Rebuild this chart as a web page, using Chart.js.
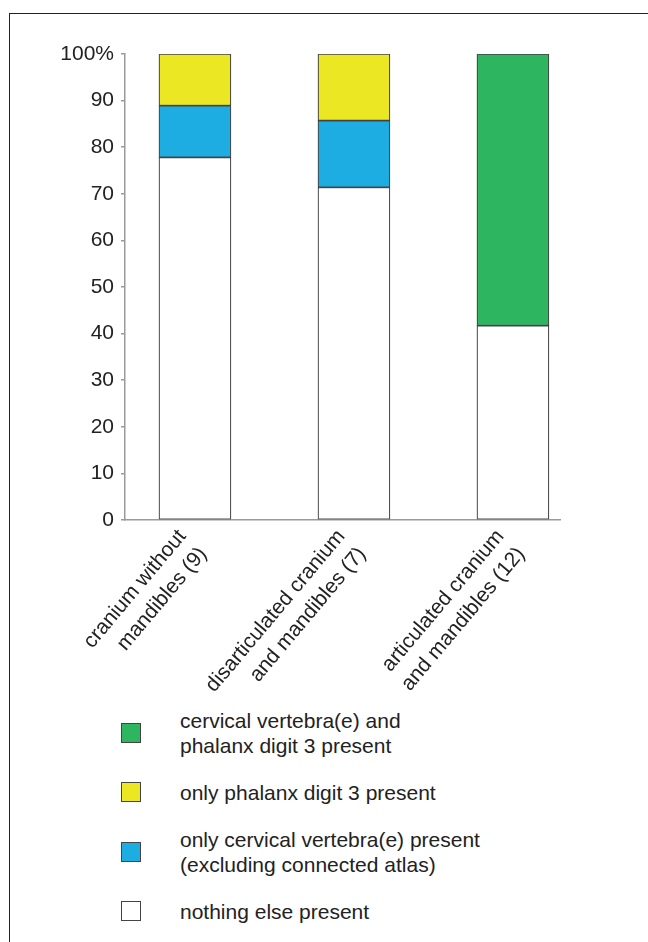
<!DOCTYPE html>
<html>
<head>
<meta charset="utf-8">
<script src="https://cdn.jsdelivr.net/npm/chart.js@4.4.1/dist/chart.umd.min.js"></script>
<style>
  body { margin: 0; background: #fff; font-family: "Liberation Sans", Arial, sans-serif; color: #222; }
  #wrap { position: relative; width: 648px; height: 942px; overflow: hidden; }
  #frame { position: absolute; left: 9px; top: 13px; width: 700px; height: 1000px;
           border-left: 1.5px solid #222; border-top: 1.5px solid #222; }
  #chartBox { position: absolute; left: 0; top: 0; }
  .leg { position: absolute; left: 121px; }
  .leg .sw { position: absolute; left: 0; width: 18px; height: 18px; border: 1.2px solid #444; }
  .leg .tx { position: absolute; left: 59px; font-size: 21px; line-height: 25px; white-space: nowrap; }
</style>
</head>
<body>
<div id="wrap">
  <div id="frame"></div>
  <div id="chartBox"><canvas id="myChart" width="648" height="700"></canvas></div>
  <div id="legend"></div>
</div>
<script>
// categories and percentages per group
var categories = [
    ['cranium without', 'mandibles (9)'],
    ['disarticulated cranium', 'and mandibles (7)'],
    ['articulated cranium', 'and mandibles (12)']
];
var nothingElse = [77.8, 71.4, 41.7];
var onlyCervical = [11.1, 14.3, null];
var onlyPhalanx = [11.1, 14.3, null];
var cervicalAndPhalanx = [null, null, 58.3];
var yTicks = [0, 10, 20, 30, 40, 50, 60, 70, 80, 90, 100];

var seriesNames = ['nothing else present', 'only cervical vertebra(e) present', 'only phalanx digit 3 present', 'cervical vertebra(e) and phalanx digit 3 present'];
var seriesColors = ['#ffffff', '#1eade3', '#ebe823', '#2db560'];

function pts(arr) {
    return arr.map(function(v, i) { return { x: i, y: v }; });
}

var allSeries = [nothingElse, onlyCervical, onlyPhalanx, cervicalAndPhalanx];
var datasets = allSeries.map(function(arr, k) {
    return {
        label: seriesNames[k],
        data: pts(arr),
        backgroundColor: seriesColors[k],
        borderColor: '#444',
        borderWidth: 1.2,
        borderSkipped: false,
        barThickness: 72
    };
});

var graphData = {
    type: 'bar',
    data: { datasets: datasets },
    options: {
        responsive: false,
        animation: false,
        layout: { padding: { left: 0, top: 54, right: 88, bottom: 0 } },
        plugins: { legend: { display: false }, tooltip: { enabled: false } },
        scales: {
            x: {
                type: 'linear',
                stacked: true,
                offset: false,
                min: -0.44,
                max: 2.296,
                grid: { display: false },
                border: { display: true, color: '#9a9a9a', width: 1.5 },
                // labels sit a little left of the bar centres in the figure
                afterBuildTicks: function(s) {
                    s.ticks = categories.map(function(c, i) { return { value: i - 0.08 }; });
                },
                ticks: {
                    autoSkip: false,
                    minRotation: 50,
                    maxRotation: 50,
                    padding: -4,
                    color: '#222',
                    font: { family: 'Liberation Sans', size: 21, lineHeight: 1.3 },
                    callback: function(value) {
                        return categories[Math.round(value)];
                    }
                },
                afterFit: function(s) { s.height = 180; }
            },
            y: {
                stacked: true,
                min: 0,
                max: 100,
                afterBuildTicks: function(s) { s.ticks = yTicks.map(function(v) { return { value: v }; }); },
                grid: { drawOnChartArea: false, drawTicks: true, tickLength: 4, color: '#9a9a9a', lineWidth: 1.5 },
                border: { display: true, color: '#9a9a9a', width: 1.5 },
                ticks: {
                    padding: 7,
                    color: '#222',
                    font: { family: 'Liberation Sans', size: 21 },
                    callback: function(value) { return value === 100 ? '100%' : value; }
                },
                afterFit: function(s) { s.width = 125; }
            }
        }
    }
};

var ctx = document.getElementById('myChart').getContext('2d');
var myChart = new Chart(ctx, graphData);

// legend below the chart, top to bottom as in the figure
var legendRows = [
    { k: 3, top: 723, lines: ['cervical vertebra(e) and', 'phalanx digit 3 present'] },
    { k: 2, top: 782, lines: ['only phalanx digit 3 present'] },
    { k: 1, top: 842, lines: ['only cervical vertebra(e) present', '(excluding connected atlas)'] },
    { k: 0, top: 901, lines: ['nothing else present'] }
];
var legend = document.getElementById('legend');
legendRows.forEach(function(r) {
    var row = document.createElement('div');
    row.className = 'leg';
    row.style.top = r.top + 'px';
    var sw = document.createElement('div');
    sw.className = 'sw';
    sw.style.background = seriesColors[r.k];
    row.appendChild(sw);
    var tx = document.createElement('div');
    tx.className = 'tx';
    tx.innerHTML = r.lines.join('<br>');
    tx.style.top = (10 - r.lines.length * 12.5) + 'px';
    row.appendChild(tx);
    legend.appendChild(row);
});
</script>
</body>
</html>
